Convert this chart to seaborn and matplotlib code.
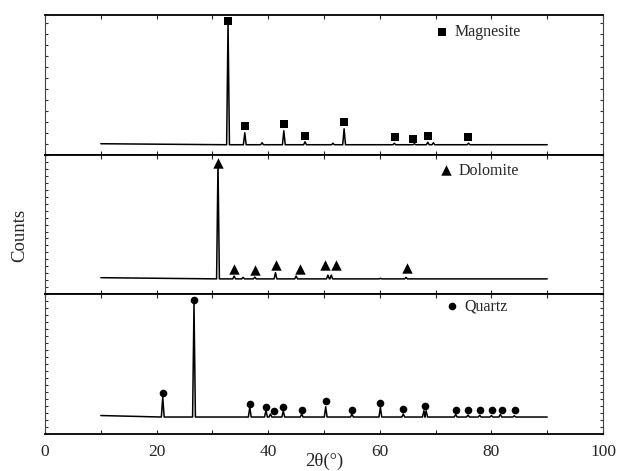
import matplotlib
matplotlib.use("Agg")
import matplotlib.pyplot as plt
from matplotlib.ticker import MultipleLocator
import seaborn as sns

# Patrones DRX: 2θ (grados) y cuentas relativas
# Magnesita
mag_start, mag_base = 110, 100
mag_peaks = [32.8, 35.8, 38.9, 42.8, 46.6, 51.6, 53.6, 62.6, 66.2, 68.6, 69.6, 75.9]
mag_counts = [1330, 220, 120, 240, 130, 115, 260, 115, 110, 125, 120, 115]
mag_mark_pos = [32.8, 35.8, 42.8, 46.6, 53.6, 62.8, 65.9, 68.7, 75.8]
mag_mark_counts = [1340, 290, 310, 190, 330, 180, 160, 190, 180]

# Dolomita
dol_start, dol_base = 167, 155
dol_peaks = [31.0, 33.9, 35.5, 37.6, 41.3, 45.0, 50.7, 51.3, 60.1, 64.7]
dol_counts = [1320, 183, 170, 173, 217, 183, 193, 193, 160, 170]
dol_mark_pos = [31.0, 33.9, 37.6, 41.4, 45.7, 50.2, 52.2, 64.9]
dol_mark_counts = [1320, 250, 240, 290, 250, 290, 290, 260]

# Cuarzo
qtz_start, qtz_base = 185, 170
qtz_peaks = [21.1, 26.7, 36.7, 39.6, 40.4, 42.7, 46.0, 50.3, 55.0, 60.1,
             64.2, 67.9, 68.3, 73.6, 75.8, 77.9, 80.0, 81.6, 84.1]
qtz_counts = [370, 1310, 270, 240, 200, 233, 200, 273, 200, 267,
              200, 233, 233, 197, 190, 188, 185, 197, 182]
qtz_mark_pos = [21.1, 26.7, 36.7, 39.6, 41.0, 42.7, 46.0, 50.3, 55.0, 60.1,
                64.2, 68.1, 73.6, 75.8, 78.0, 80.1, 81.9, 84.2]
qtz_mark_counts = [410, 1340, 300, 270, 230, 270, 240, 330, 240, 310,
                   250, 280, 240, 240, 240, 240, 240, 240]

THETA_MIN, THETA_MAX = 10, 90


def build_pattern(start, base, peaks, counts, half=0.25):
    # linea base + picos estrechos
    xs, ys = [THETA_MIN], [start]
    for p, c in zip(peaks, counts):
        xs += [p - half, p, p + half]
        ys += [base, c, base]
    xs.append(THETA_MAX)
    ys.append(base)
    return xs, ys


sns.set_theme(style="ticks")
plt.rcParams['font.family'] = ['Liberation Serif', 'DejaVu Serif']

fig, axes = plt.subplots(3, 1, sharex=True, figsize=(6.2, 4.71), dpi=100)
plt.subplots_adjust(left=0.0726, right=0.9726, bottom=0.0786, top=0.968, hspace=0)

panels = [
    (mag_start, mag_base, mag_peaks, mag_counts, mag_mark_pos, mag_mark_counts,
     "s", 5.5, "Magnesite", (0.697, 0.879), 110),
    (dol_start, dol_base, dol_peaks, dol_counts, dol_mark_pos, dol_mark_counts,
     "^", 7.5, "Dolomite", (0.704, 0.886), 70),
    (qtz_start, qtz_base, qtz_peaks, qtz_counts, qtz_mark_pos, qtz_mark_counts,
     "o", 5.5, "Quartz", (0.715, 0.914), 70),
]

for ax, (st, bs, pk, ct, mp, mc, mk, ms, lab, anchor, ystep) in zip(axes, panels):
    xs, ys = build_pattern(st, bs, pk, ct)
    sns.lineplot(x=xs, y=ys, ax=ax, color="black", linewidth=1.1,
                 sort=False, estimator=None)
    sns.scatterplot(x=mp, y=mc, ax=ax, marker=mk, s=ms ** 2, color="black",
                    edgecolor="black", linewidth=0, label=lab, zorder=3)
    ax.legend(loc="center left", bbox_to_anchor=anchor, frameon=False,
              borderpad=0, borderaxespad=0, handlelength=1.0, handletextpad=0.3,
              fontsize=11.5)

    ax.set_ylim(0, 1400)
    ax.set_xlim(0, 100)
    ax.yaxis.set_major_locator(MultipleLocator(ystep))
    ax.set_yticklabels([])
    ax.xaxis.set_major_locator(MultipleLocator(20))
    ax.xaxis.set_minor_locator(MultipleLocator(10))
    ax.tick_params(axis="y", which="both", direction="in", length=2.5, width=0.8,
                   left=True, right=True, color="#333333")
    ax.tick_params(axis="x", which="both", direction="in", length=3, width=0.8,
                   top=True, bottom=True, labelsize=12.5, pad=7)
    for side in ["top", "bottom"]:
        ax.spines[side].set_linewidth(1.3)
        ax.spines[side].set_color("black")
    for side in ["left", "right"]:
        ax.spines[side].set_linewidth(0.8)
        ax.spines[side].set_color("#444444")
    ax.set_ylabel("")

axes[-1].set_xlabel("2θ(°)", fontsize=13.5, labelpad=-5)
fig.text(20 / 620, 1 - 235 / 471, "Counts", rotation=90, fontsize=13.5,
         ha="center", va="center")

plt.savefig("out.png", dpi=100)
